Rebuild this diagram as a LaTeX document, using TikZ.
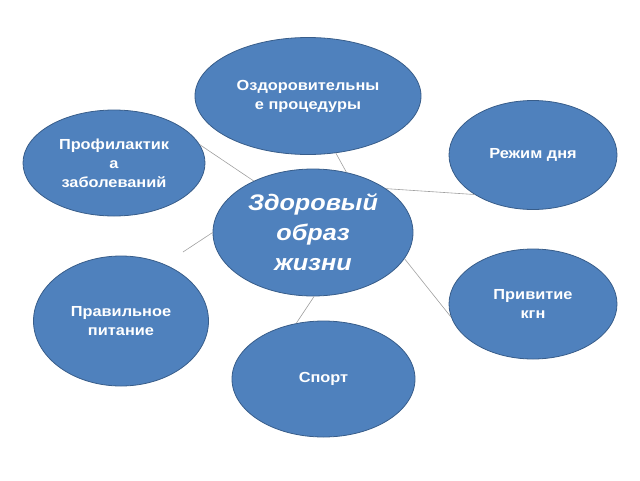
\documentclass[tikz,border=0pt]{standalone}
\usepackage{fontspec}
\setmainfont{Liberation Sans}
\newfontfamily\labelfont[FakeStretch=1.12]{Liberation Sans}
\usepackage{tikz}
\usetikzlibrary{shapes.geometric}
\definecolor{ovalfill}{HTML}{4F81BD}
\definecolor{ovalline}{HTML}{385D8A}
\definecolor{linkgray}{HTML}{A0A0A0}

\begin{document}
\begin{tikzpicture}[x=1pt,y=-1pt,
    topic/.style={draw=ovalline,fill=ovalfill,ellipse,inner sep=0pt,line width=0.8pt,
        text=white,align=center,font=\labelfont\bfseries\fontsize{14.6}{19}\selectfont},
    hub/.style={topic,font=\labelfont\bfseries\itshape\fontsize{22.5}{30}\selectfont},
    link/.style={draw=linkgray,line width=0.6pt}]
\useasboundingbox (0,0) rectangle (640,480);
\node[hub,minimum width=200pt,minimum height=127pt] (H) at (313,232.5) {Здоровый\\образ\\жизни};
\node[topic,minimum width=226pt,minimum height=117pt] (P) at (308,96) {Оздоровительны\\е процедуры};
\node[topic,minimum width=182pt,minimum height=106pt] (F) at (114,163) {Профилактик\\а\\заболеваний};
\node[topic,minimum width=168pt,minimum height=109pt] (R) at (533,155) {Режим дня};
\node[topic,minimum width=175pt,minimum height=130pt] (N) at (121,321) {Правильное\\питание};
\node[topic,minimum width=183pt,minimum height=116pt] (S) at (323.5,379) {Спорт};
\node[topic,minimum width=168pt,minimum height=110pt] (K) at (533,304) {Привитие\\кгн};
\coordinate (Nend) at (183,252);
    \path (H.61) edge[link] (P.-64);
    \path (H.139) edge[link] (F.12);
    \path (H.31) edge[link] (R.-146);
    \path (H.180) edge[link] (Nend);
    \path (H.-89) edge[link] (S.116);
    \path (H.-16) edge[link] (K.-171);
\end{tikzpicture}
\end{document}
